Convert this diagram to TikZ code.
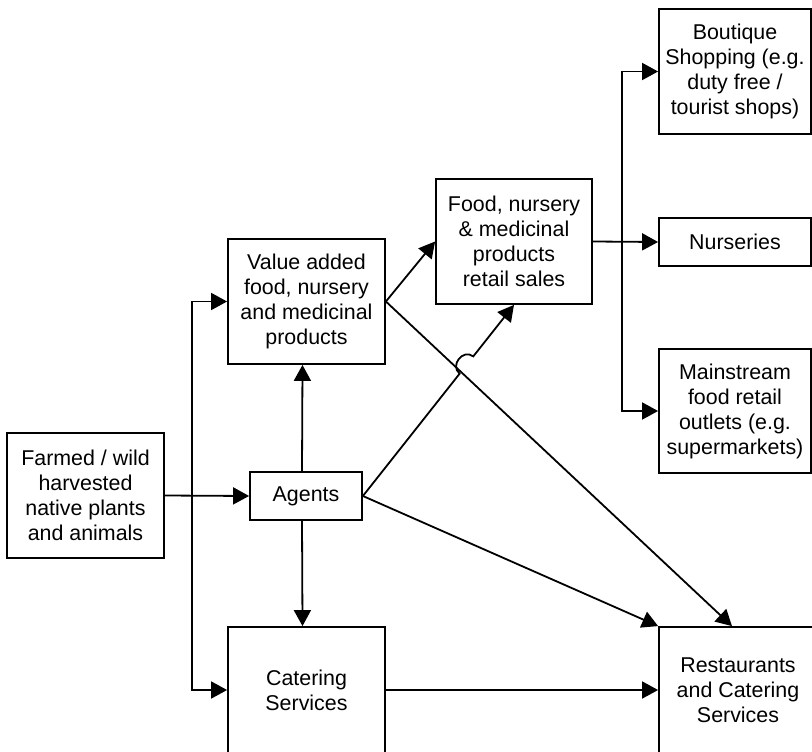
\documentclass[tikz,border=0pt]{standalone}
\usepackage{fontspec}
\setmainfont{Liberation Sans}
\usetikzlibrary{arrows.meta,calc}
\begin{document}
\begin{tikzpicture}[x=1pt,y=-1pt,
  box/.style={draw,line width=1.8pt,rectangle,inner sep=0pt,align=center,
    font=\fontsize{21.4}{25}\selectfont},
  link/.style={line width=1.8pt},
  arr/.style={line width=1.8pt,-{Triangle[length=16pt,width=17pt]}}]
\useasboundingbox (0,0) rectangle (812,752);
% nodes
\node[box,minimum width=157pt,minimum height=125pt] (farm) at (85.5,495.5)
  {Farmed / wild\\harvested\\native plants\\and animals};
\node[box,minimum width=112pt,minimum height=48pt] (ag) at (306,496) {Agents};
\node[box,minimum width=157pt,minimum height=125pt] (va) at (306.5,301.5)
  {Value added\\food, nursery\\and medicinal\\products};
\node[box,minimum width=156pt,minimum height=125pt] (fd) at (514,241.5)
  {Food, nursery\\\& medicinal\\products\\retail sales};
\node[box,minimum width=157pt,minimum height=126pt] (cat) at (306.5,690)
  {Catering\\Services};
\node[box,minimum width=158pt,minimum height=126pt] (rest) at (738,690)
  {Restaurants\\and Catering\\Services};
\node[box,minimum width=152pt,minimum height=125pt] (bout) at (735,71.5)
  {Boutique\\Shopping (e.g.\\duty free /\\tourist shops)};
\node[box,minimum width=152pt,minimum height=48pt] (nur) at (735,242)
  {Nurseries};
\node[box,minimum width=152pt,minimum height=124pt] (main) at (735,411)
  {Mainstream\\food retail\\outlets (e.g.\\supermarkets)};
% junction coordinates
\coordinate (j1) at ($(farm.east)+(27,0)$);
\coordinate (j2) at ($(fd.east)+(29,0)$);
% connectors
\draw[arr] (farm.east) -- (ag.west);
\draw[arr] (j1) |- (va.west);
\draw[arr] (j1) |- (cat.west);
\draw[arr] ([xshift=-4pt]ag.north) -- ([xshift=-4pt]va.south);
\draw[arr] ([xshift=-4pt]ag.south) -- ([xshift=-4pt]cat.north);
\draw[arr] (va.east) -- (fd.west);
\draw[arr] (va.east) -- ([xshift=-6pt]rest.north);
\draw[arr] (ag.east) -- (rest.north west);
\draw[arr] (cat.east) -- (rest.west);
\draw[arr] (fd.east) -- (nur.west);
\draw[arr] (j2) |- (bout.west);
\draw[arr] (j2) |- (main.west);
% agents to food retail, with a hop over the crossing line
\coordinate (h1) at ($(ag.east)!156pt!(fd.south)$);
\coordinate (h2) at ($(ag.east)!178pt!(fd.south)$);
\draw[arr] (ag.east) -- (h1)
  .. controls ($(h1)!13pt!90:(h2)$) and ($(h2)!13pt!-90:(h1)$) .. (h2)
  -- (fd.south);
\end{tikzpicture}
\end{document}
